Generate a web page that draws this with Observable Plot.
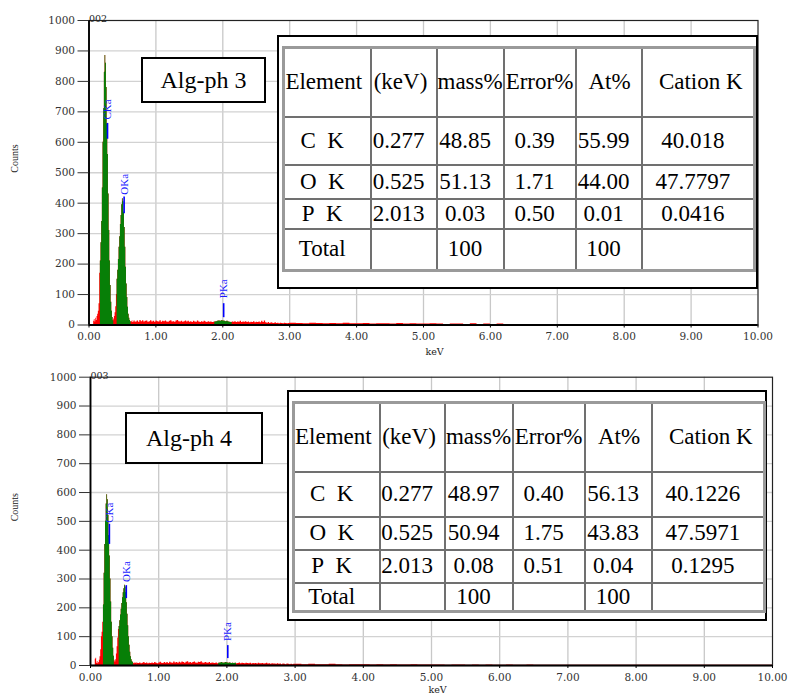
<!DOCTYPE html>
<html><head><meta charset="utf-8">
<script src="https://cdn.jsdelivr.net/npm/d3@7"></script>
<script src="https://cdn.jsdelivr.net/npm/@observablehq/plot@0.6"></script>
<style>
body{margin:0;background:#fff;}
#wrap{position:relative;width:791px;height:698px;overflow:hidden;background:#fff;}
.chart{position:absolute;left:0;}
.lbl{position:absolute;box-sizing:border-box;border:2px solid #000;background:#fff;font:24px "Liberation Serif","Times New Roman",serif;display:flex;align-items:center;justify-content:center;color:#000;}
.outer{position:absolute;box-sizing:border-box;border:2px solid #000;background:#fff;}
table.eds{position:absolute;border-collapse:collapse;table-layout:fixed;font:23px "Liberation Serif","Times New Roman",serif;color:#000;background:#fff;border:3px solid #9a9a9a;}
table.eds td{border:2px solid #707070;padding:0;text-align:center;white-space:nowrap;overflow:visible;}
table.eds tr.d td{padding-right:10px;}
</style></head><body><div id="wrap"></div><script>
// ---------- tick values ----------
const xTickValues = [0,1,2,3,4,5,6,7,8,9,10];
const yTickValues = [0,100,200,300,400,500,600,700,800,900,1000];

// ---------- characteristic lines ----------
const lineNames = ["CKa","OKa","PKa"];
const lineKeV = [0.277, 0.525, 2.013];
const elements = ["C\u00a0\u00a0K","O\u00a0\u00a0K","P\u00a0\u00a0K"];
const tableHeader = ["Element","(keV)","mass%","Error%","At%","Cation K"];

// ---------- Alg-ph 3 (spectrum 002) ----------
// counts, 0.00-0.69 keV, 0.01 keV channels
const top3Peak = [0,0,0,0,0,0,0,12,18,10,
  22,15,28,35,45,70,170,210,270,340,
  450,600,710,830,885,860,780,660,560,430,
  310,210,130,75,45,25,14,20,28,40,
  60,100,150,180,215,255,290,330,360,395,
  415,405,370,320,255,190,135,90,58,35,
  22,15,11,9,12,8,14,10,13,9];
// counts, 0.70-2.98 keV, 0.02 keV channels
const top3Mid = [10,13,9,15,11,14,10,12,13,9,
  11,14,10,12,9,13,11,10,14,9,
  12,11,13,10,9,12,14,10,11,9,
  13,15,11,10,12,9,11,13,10,12,
  9,11,8,12,10,9,13,10,8,11,
  9,12,10,8,11,9,10,8,9,10,
  11,12,13,12,14,13,12,11,12,10,
  9,8,10,9,11,8,10,9,12,8,
  10,9,11,8,10,7,9,8,11,7,
  9,8,10,7,12,8,13,7,6,8,
  5,7,6,5,7,5,6,4,6,5,
  4,6,5,4,5];
// counts, 3.0-9.9 keV, 0.1 keV channels
const top3Tail = [6,5,4,6,5,4,5,4,6,4,
  4,5,3,4,4,3,5,3,4,3,
  3,4,3,2,3,3,2,4,2,3,
  2,3,2,2,1,2,2,1,2,1,
  1,2,1,1,2,1,1,1,2,1,
  1,1,2,1,1,1,1,2,1,1,
  1,1,1,2,1,1,1,1,1,1];
const top3Roi = [[0.17,0.37],[0.42,0.63],[1.88,2.14]];
const top3MarkLo = [610, 365, 24];
const top3MarkHi = [662, 420, 70];
const top3LabelY = [675, 428, 88];
const top3Mass = ["48.85","51.13","0.03"];
const top3Err = ["0.39","1.71","0.50"];
const top3At = ["55.99","44.00","0.01"];
const top3Cation = ["40.018","47.7797","0.0416"];

// ---------- Alg-ph 4 (spectrum 003) ----------
const bot4Peak = [0,0,0,0,0,0,0,22,25,8,
  14,6,10,18,30,55,100,115,150,210,
  320,420,500,560,592,575,520,450,380,300,
  220,150,100,60,32,18,12,20,40,65,
  95,125,135,155,175,195,215,235,252,266,
  278,272,252,218,178,138,100,70,46,30,
  20,14,10,8,6,9,7,10,6,8];
const bot4Mid = [7,9,6,8,10,7,9,6,8,7,
  9,7,10,8,6,9,11,8,7,10,
  8,10,7,11,9,8,12,9,10,8,
  11,9,12,10,8,11,13,9,10,8,
  10,12,9,8,11,10,13,9,8,10,
  9,8,10,7,9,8,7,9,6,8,
  9,10,8,9,10,9,8,9,7,8,
  7,8,6,7,9,6,8,7,6,8,
  7,6,8,5,7,6,7,5,8,6,
  6,7,5,6,8,5,6,4,6,5,
  5,4,6,4,5,3,5,4,3,5,
  4,3,4,3,4];
const bot4Tail = [4,3,4,3,3,4,3,2,3,3,
  3,2,3,2,3,2,2,3,2,2,
  2,2,1,2,2,1,2,1,2,1,
  1,2,1,1,2,1,1,1,1,1,
  1,1,1,1,1,1,1,1,1,1,
  1,1,1,1,1,1,1,1,1,1,
  1,1,1,1,1,1,1,1,1,1];
const bot4Roi = [[0.19,0.35],[0.42,0.63],[1.88,2.14]];
const bot4MarkLo = [420, 232, 24];
const bot4MarkHi = [490, 277, 69];
const bot4LabelY = [495, 290, 85];
const bot4Mass = ["48.97","50.94","0.08"];
const bot4Err = ["0.40","1.75","0.51"];
const bot4At = ["56.13","43.83","0.04"];
const bot4Cation = ["40.1226","47.5971","0.1295"];

const RED = "#ff0000", GREEN = "#077f07", BLUE = "#1a1aff";
const AXFONT = "DejaVu Serif";

function channels(peak, mid, tail) {
  const pts = [];
  peak.forEach((c, i) => pts.push({e: +(i * 0.01).toFixed(3), w: 0.01, c}));
  mid.forEach((c, i) => pts.push({e: +(0.70 + i * 0.02).toFixed(3), w: 0.02, c}));
  tail.forEach((c, i) => pts.push({e: +(3.0 + i * 0.1).toFixed(3), w: 0.1, c}));
  return pts;
}
function fullArea(pts) {
  const last = pts[pts.length - 1];
  return [...pts, {e: last.e + last.w, c: last.c}];
}
function roiArea(pts, rois) {
  const out = [];
  rois.forEach(([a, b], k) => {
    const sel = pts.filter(p => p.e >= a - 1e-9 && p.e < b - 1e-9);
    sel.forEach(p => out.push({e: p.e, c: p.c, roi: k}));
    const l = sel[sel.length - 1];
    out.push({e: l.e + l.w, c: l.c, roi: k});
  });
  return out;
}

function panel(cfg) {
  const pts = channels(cfg.peak, cfg.mid, cfg.tail);
  const markers = lineNames.map((n, i) => ({name: n, e: lineKeV[i], lo: cfg.lo[i], hi: cfg.hi[i], ly: cfg.ly[i]}));
  return Plot.plot({
    width: 791, height: cfg.h,
    marginLeft: cfg.ml, marginRight: cfg.mr, marginTop: cfg.mt, marginBottom: cfg.mb,
    x: {domain: [0, 10]},
    y: {domain: [0, 1000]},
    style: {fontFamily: AXFONT, fontSize: "10.5px", color: "#333", background: "transparent", overflow: "visible"},
    marks: [
      Plot.gridX(xTickValues.slice(1, -1), {stroke: "#c8c8c8", strokeOpacity: 1, strokeWidth: 1.3}),
      Plot.gridY(yTickValues.slice(1, -1), {stroke: "#d2d2d2", strokeOpacity: 1, strokeWidth: 1.3}),
      Plot.area(fullArea(pts), {x1: "e", y1: 0, y2: "c", curve: "step-after", fill: RED}),
      Plot.area(roiArea(pts, cfg.roi), {x1: "e", y1: 0, y2: "c", z: "roi", curve: "step-after", fill: GREEN}),
      Plot.frame({stroke: "#222", strokeWidth: 1.2}),
      Plot.ruleX([0], {stroke: "#000", strokeWidth: 1.8}),
      Plot.ruleY([0], {stroke: "#000", strokeWidth: 1.8}),
      Plot.axisX(xTickValues, {tickSize: 3, tickPadding: 5, tickFormat: d3.format(".2f"), label: null, stroke: "#000", fontFamily: AXFONT, fontSize: 10.5}),
      Plot.axisY(yTickValues, {tickSize: 11, tickPadding: 3, tickFormat: d => String(d), label: null, stroke: "#333", fontFamily: AXFONT, fontSize: 10.5}),
      Plot.ruleX(markers, {x: "e", y1: "lo", y2: "hi", stroke: "#0000ff", strokeWidth: 1.6}),
      Plot.text(markers, {x: "e", y: "ly", text: "name", rotate: -90, textAnchor: "start", fill: BLUE, fontSize: 11, fontFamily: "Liberation Serif"}),
      Plot.text(["Counts"], {frameAnchor: "left", rotate: -90, dx: cfg.countsDx, fontFamily: "Liberation Serif", fontSize: 10, fill: "#222"}),
      Plot.text(["keV"], {frameAnchor: "bottom", dy: cfg.kevDy, dx: cfg.kevDx, fontSize: 9.5, fontFamily: AXFONT, fill: "#222"}),
      Plot.text([cfg.id], {frameAnchor: "top-left", textAnchor: "start", dy: -5, fontSize: 9.5, fontFamily: AXFONT, fill: "#222"})
    ]
  });
}

const wrap = document.getElementById("wrap");
function place(node, top) {
  const d = document.createElement("div");
  d.className = "chart"; d.style.top = top + "px";
  d.appendChild(node); wrap.appendChild(d);
}
place(panel({h: 360, ml: 88.5, mr: 33.5, mt: 20, mb: 35.5, peak: top3Peak, mid: top3Mid, tail: top3Tail, roi: top3Roi,
  lo: top3MarkLo, hi: top3MarkHi, ly: top3LabelY, countsDx: -74, kevDy: 30, kevDx: 11, id: "002"}), 0);
place(panel({h: 338, ml: 90, mr: 19, mt: 16.7, mb: 33, peak: bot4Peak, mid: bot4Mid, tail: bot4Tail, roi: bot4Roi,
  lo: bot4MarkLo, hi: bot4MarkHi, ly: bot4LabelY, countsDx: -76, kevDy: 27, kevDx: 6, id: "003"}), 360);

function labelBox(text, l, t, w, h, padR) {
  const d = document.createElement("div");
  d.className = "lbl";
  Object.assign(d.style, {left: l + "px", top: t + "px", width: w + "px", height: h + "px", paddingRight: padR + "px"});
  d.textContent = text; wrap.appendChild(d);
}
labelBox("Alg-ph 3", 141, 57, 125, 46, 0);
labelBox("Alg-ph 4", 125, 412, 138, 52, 10);

const headerPadR = [7, 6, 0, 0, 0, 0];
const headerPadL = [0, 0, 0, 0, 2, 6];
function edsTable(box, pos, cols, rows, mass, err, at, cation) {
  const o = document.createElement("div");
  o.className = "outer";
  Object.assign(o.style, {left: box[0] + "px", top: box[1] + "px", width: box[2] + "px", height: box[3] + "px"});
  wrap.appendChild(o);
  const t = document.createElement("table");
  t.className = "eds";
  Object.assign(t.style, {left: pos[0] + "px", top: pos[1] + "px", width: pos[2] + "px", height: pos[3] + "px"});
  const cg = document.createElement("colgroup");
  cols.forEach(w => { const c = document.createElement("col"); c.style.width = w + "px"; cg.appendChild(c); });
  t.appendChild(cg);
  const body = [tableHeader];
  elements.forEach((el, i) => body.push([el, lineKeV[i].toFixed(3), mass[i], err[i], at[i], cation[i]]));
  body.push(["Total", "", "100", "", "100", ""]);
  body.forEach((r, ri) => {
    const tr = document.createElement("tr");
    if (ri > 0) tr.className = "d";
    tr.style.height = rows[ri] + "px";
    r.forEach((v, ci) => {
      const td = document.createElement("td");
      td.textContent = v;
      if (ri === 0) { td.style.paddingRight = headerPadR[ci] + "px"; td.style.paddingLeft = headerPadL[ci] + "px"; }
      tr.appendChild(td);
    });
    t.appendChild(tr);
  });
  wrap.appendChild(t);
}
edsTable([277, 35, 481, 254], [282, 46, 471, 223], [87, 66, 67, 72, 66, 113], [69, 48, 34, 30, 42],
  top3Mass, top3Err, top3At, top3Cation);
edsTable([287, 390, 480, 231], [292, 401, 471, 208], [86, 65, 68, 72, 67, 113], [69, 45, 33, 33, 28],
  bot4Mass, bot4Err, bot4At, bot4Cation);
</script></body></html>
